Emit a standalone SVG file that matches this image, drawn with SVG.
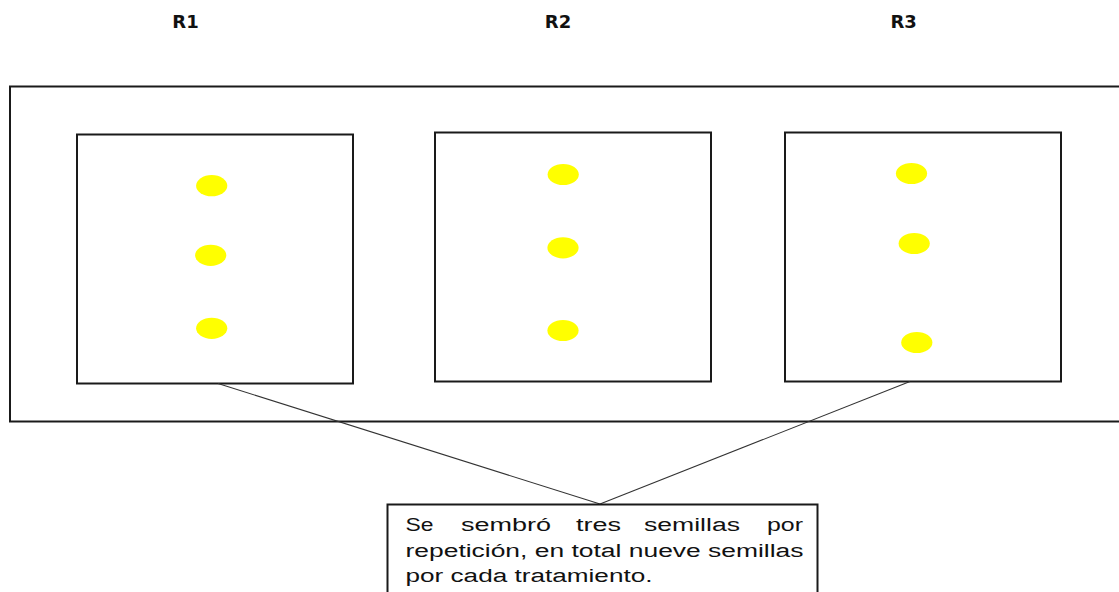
<svg xmlns="http://www.w3.org/2000/svg" width="1119" height="592" viewBox="0 0 1119 592">
<style>
.box{fill:#fff;stroke:#1a1a1a;stroke-width:2}
.seed{fill:#ffff00;stroke:none}
.lbl{font-family:"DejaVu Sans",sans-serif;font-weight:bold;font-size:18px;fill:#111;text-anchor:middle}
.note{font-family:"Liberation Sans",Arial,sans-serif;font-size:18.8px;fill:#111}
.con{stroke:#333;stroke-width:1.1;fill:none}
</style>
<rect width="1119" height="592" fill="#fff"/>
<g id="labels">
<text class="lbl" x="185.5" y="28">R1</text>
<text class="lbl" x="558" y="28">R2</text>
<text class="lbl" x="903.7" y="28">R3</text>
</g>
<g id="field">
<rect class="box" x="10" y="86.5" width="1125" height="335"/>
</g>
<g id="R1">
<rect class="box" x="77" y="134.5" width="276" height="249"/>
<ellipse class="seed" cx="211.7" cy="185.7" rx="15.6" ry="10.6"/>
<ellipse class="seed" cx="210.7" cy="255.3" rx="15.6" ry="10.6"/>
<ellipse class="seed" cx="211.7" cy="328.3" rx="15.6" ry="10.6"/>
</g>
<g id="R2">
<rect class="box" x="435" y="132.5" width="276" height="249"/>
<ellipse class="seed" cx="563.2" cy="174.5" rx="15.6" ry="10.6"/>
<ellipse class="seed" cx="563" cy="247.8" rx="15.6" ry="10.6"/>
<ellipse class="seed" cx="563" cy="330.5" rx="15.6" ry="10.6"/>
</g>
<g id="R3">
<rect class="box" x="785" y="132.5" width="276" height="249"/>
<ellipse class="seed" cx="911.5" cy="173.5" rx="15.6" ry="10.6"/>
<ellipse class="seed" cx="914.2" cy="243.5" rx="15.6" ry="10.6"/>
<ellipse class="seed" cx="916.8" cy="342.5" rx="15.6" ry="10.6"/>
</g>
<g id="connectors">
<line class="con" x1="218" y1="383.5" x2="600" y2="504"/>
<line class="con" x1="910" y1="381.5" x2="600" y2="504"/>
</g>
<g id="note">
<rect class="box" x="387.5" y="504.5" width="430" height="100"/>
<text class="note" y="530.5">
<tspan x="405.5" textLength="28" lengthAdjust="spacingAndGlyphs">Se</tspan>
<tspan x="461" textLength="90" lengthAdjust="spacingAndGlyphs">sembró</tspan>
<tspan x="576" textLength="45" lengthAdjust="spacingAndGlyphs">tres</tspan>
<tspan x="644" textLength="96" lengthAdjust="spacingAndGlyphs">semillas</tspan>
<tspan x="767" textLength="36" lengthAdjust="spacingAndGlyphs">por</tspan>
</text>
<text class="note" x="405.5" y="556.5" textLength="398" lengthAdjust="spacingAndGlyphs">repetición, en total nueve semillas</text>
<text class="note" x="405.5" y="582" textLength="247" lengthAdjust="spacingAndGlyphs">por cada tratamiento.</text>
</g>
</svg>
